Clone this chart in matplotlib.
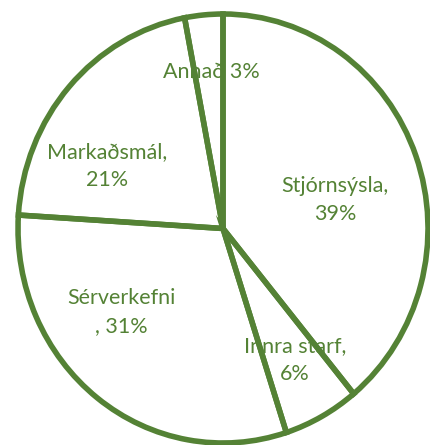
import matplotlib.pyplot as plt

labels = ["Stjórnsýsla,\n39%", "Innra starf,\n6%", "Sérverkefni\n, 31%", "Markaðsmál,\n21%", "Annað 3%"]
values = [39, 6, 31, 21, 3]
# label centres (pixels in the 431x445 picture)
label_px = [(335, 200), (295, 360), (121, 312), (107, 166), (211, 72)]

green = "#548235"

fig = plt.figure(figsize=(4.31, 4.45), dpi=100)
ax = fig.add_axes([0, 0, 1, 1])

wedges, _ = ax.pie(values, startangle=90, counterclock=False,
                   wedgeprops=dict(facecolor="none", edgecolor=green, linewidth=4, zorder=3))
ax.set_aspect("auto")

# map picture pixels to data coords (pie is slightly stretched vertically)
cx, cy, rx, ry = 223, 228.5, 205, 214.5
ax.set_xlim(-cx / rx, (431 - cx) / rx)
ax.set_ylim((cy - 445) / ry, cy / ry)
ax.axis("off")

for lab, (px, py) in zip(labels, label_px):
    ax.text((px - cx) / rx, (cy - py) / ry, lab, ha="center", va="center",
            color=green, fontsize=15.5, family="Lato", linespacing=1.45, zorder=1)

fig.savefig("out.png", dpi=100, facecolor="white")
